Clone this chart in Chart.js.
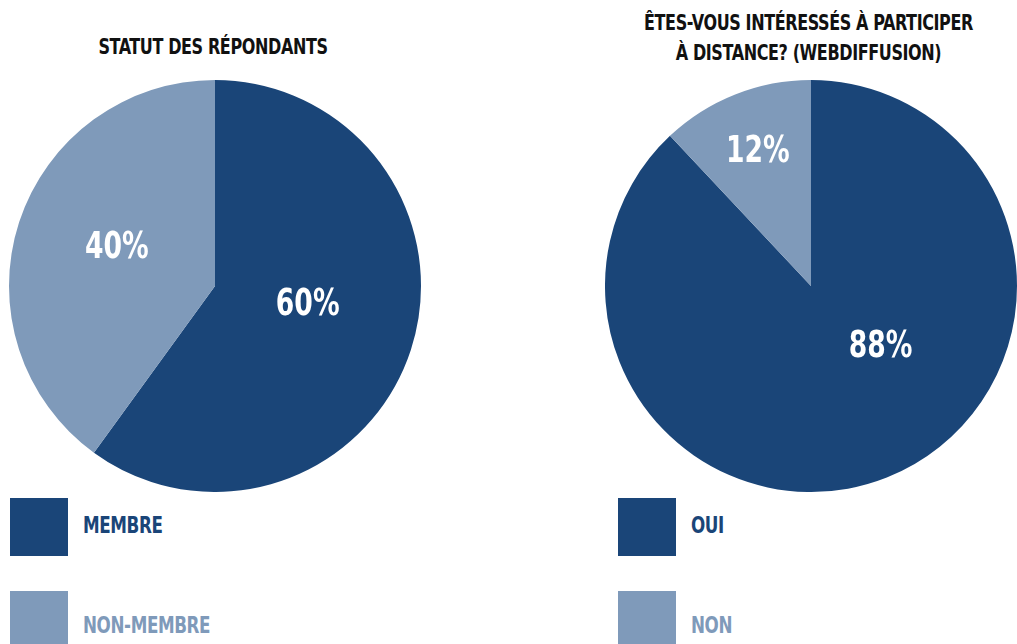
<!DOCTYPE html>
<html>
<head>
<meta charset="utf-8">
<script src="https://cdn.jsdelivr.net/npm/chart.js@4/dist/chart.umd.min.js"></script>
<style>
  html, body { margin: 0; padding: 0; background: #fff; }
  body { width: 1017px; height: 644px; position: relative; overflow: hidden;
         font-family: "DejaVu Sans Condensed", "DejaVu Sans", sans-serif; font-weight: bold; }
  .pie { position: absolute; top: 80px; width: 412px; height: 412px; }
  .title { position: absolute; text-align: center; color: #111; font-size: 22px; line-height: 30px;
           letter-spacing: -0.5px; transform: scaleX(0.81); transform-origin: center top; }
  .sw { position: absolute; width: 58px; height: 58px; }
  .lab { position: absolute; font-size: 23px; line-height: 26px; letter-spacing: -0.5px;
         transform: scaleX(0.81); transform-origin: left top; }
</style>
</head>
<body>
<div class="title" style="left:0; width:426px; top:32px;" id="title1"></div>
<div class="title" style="left:600px; width:417px; top:8px;" id="title2"></div>
<div class="pie" style="left:9px;"><canvas id="pie1" width="412" height="412"></canvas></div>
<div class="pie" style="left:605px;"><canvas id="pie2" width="412" height="412"></canvas></div>
<div id="legend1"></div>
<div id="legend2"></div>
<script>
// Chart data
const TITLE_1 = ['STATUT DES RÉPONDANTS'];
const LABELS_1 = ['MEMBRE', 'NON-MEMBRE'];
const VALUES_1 = [60, 40];

const TITLE_2 = ['ÊTES-VOUS INTÉRESSÉS À PARTICIPER', 'À DISTANCE? (WEBDIFFUSION)'];
const LABELS_2 = ['OUI', 'NON'];
const VALUES_2 = [88, 12];

// Colors
const COLORS = ['#1a4578', '#7f9aba'];

// Where the percent text sits inside each slice:
// fraction of the radius, and a turn (degrees) away from the slice middle
const LABEL_POS_1 = { radius: [0.46, 0.51], shift: [-6, 3] };
const LABEL_POS_2 = { radius: [0.45, 0.70], shift: [-27, 0] };

/**
 * Draw the percentage text inside each slice
 */
const sliceLabels = {
    id: 'sliceLabels',
    afterDatasetsDraw(chart, args, opts) {
        const ctx = chart.ctx;
        const data = chart.data.datasets[0].data;
        const total = data.reduce((a, b) => a + b, 0);
        ctx.save();
        ctx.font = 'bold 37px "DejaVu Sans Condensed", "DejaVu Sans", sans-serif';
        ctx.fillStyle = '#fff';
        ctx.textAlign = 'center';
        ctx.textBaseline = 'middle';
        chart.getDatasetMeta(0).data.forEach((arc, i) => {
            const p = arc.getProps(['x', 'y', 'startAngle', 'endAngle', 'outerRadius'], true);
            const mid = (p.startAngle + p.endAngle) / 2 + opts.shift[i] * Math.PI / 180;
            const r = p.outerRadius * opts.radius[i];
            const pct = Math.round(data[i] / total * 100) + '%';
            ctx.save();
            ctx.translate(p.x + Math.cos(mid) * r, p.y + Math.sin(mid) * r);
            ctx.scale(0.8, 1);
            ctx.fillText(pct, 0, 0);
            ctx.restore();
        });
        ctx.restore();
    }
};

function createPie(canvasId, labels, values, labelPos) {
    const ctx = document.getElementById(canvasId).getContext('2d');
    return new Chart(ctx, {
        type: 'pie',
        data: {
            labels: labels,
            datasets: [{
                data: values,
                backgroundColor: COLORS,
                borderWidth: 0
            }]
        },
        options: {
            responsive: false,
            animation: false,
            layout: { padding: 0 },
            plugins: {
                legend: { display: false },
                tooltip: { enabled: false },
                sliceLabels: labelPos
            }
        },
        plugins: [sliceLabels]
    });
}

function buildLegend(containerId, labels, left) {
    const box = document.getElementById(containerId);
    labels.forEach((label, i) => {
        const top = 498 + i * 93;
        const sw = document.createElement('div');
        sw.className = 'sw';
        sw.style.left = left + 'px';
        sw.style.top = top + 'px';
        sw.style.background = COLORS[i];
        box.appendChild(sw);
        const t = document.createElement('div');
        t.className = 'lab';
        t.style.left = (left + 73) + 'px';
        t.style.top = (top + 14 + i * 7) + 'px';
        t.style.color = COLORS[i];
        t.textContent = label;
        box.appendChild(t);
    });
}

document.getElementById('title1').innerHTML = TITLE_1.join('<br>');
document.getElementById('title2').innerHTML = TITLE_2.join('<br>');

createPie('pie1', LABELS_1, VALUES_1, LABEL_POS_1);
createPie('pie2', LABELS_2, VALUES_2, LABEL_POS_2);
buildLegend('legend1', LABELS_1, 10);
buildLegend('legend2', LABELS_2, 618);
</script>
</body>
</html>
